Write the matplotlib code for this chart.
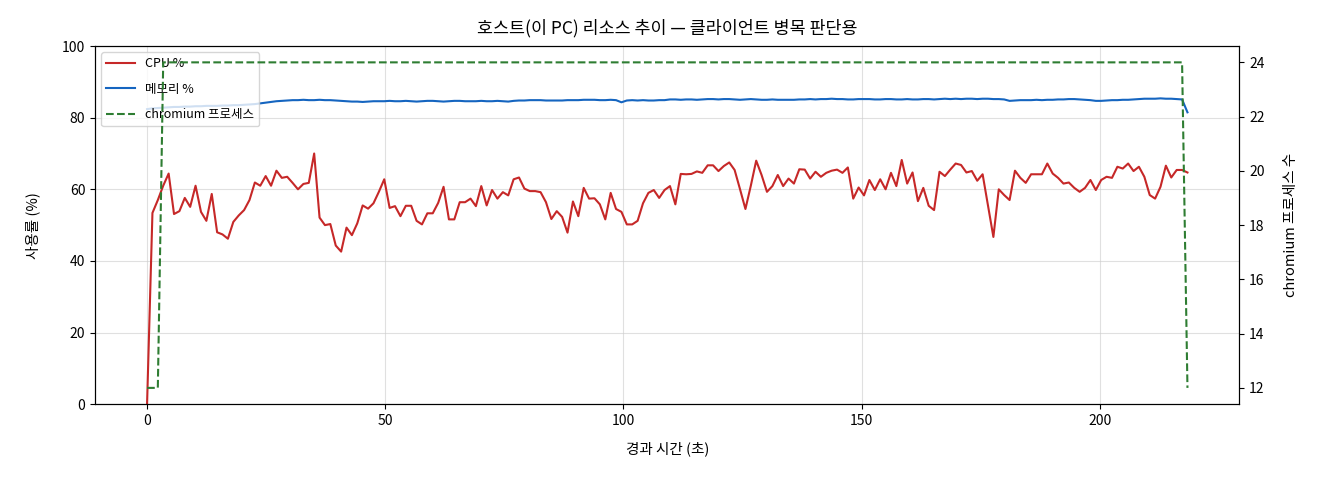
import numpy as np
import matplotlib
matplotlib.use("Agg")
import matplotlib.pyplot as plt

plt.rcParams['font.family'] = ['Noto Sans CJK KR', 'DejaVu Sans']
plt.rcParams['axes.unicode_minus'] = False

SAMPLE_INTERVAL_S = 1.1316

cpu_pct = [
    0.0, 53.4, 57.0, 61.0, 64.4, 53.1, 53.9, 57.6, 55.1, 61.0,
    53.7, 51.2, 58.7, 48.0, 47.4, 46.2, 50.9, 52.7, 54.2, 57.0,
    61.9, 61.0, 63.7, 61.0, 65.2, 63.2, 63.5, 61.8, 60.0, 61.5,
    61.8, 70.0, 52.1, 50.0, 50.3, 44.3, 42.6, 49.3, 47.2, 50.5,
    55.5, 54.6, 56.1, 59.3, 62.8, 54.8, 55.3, 52.5, 55.4, 55.4,
    51.2, 50.2, 53.3, 53.3, 56.2, 60.7, 51.6, 51.6, 56.4, 56.4,
    57.4, 55.3, 60.9, 55.5, 59.8, 57.4, 59.2, 58.3, 62.8, 63.3,
    60.2, 59.5, 59.5, 59.2, 56.4, 51.7, 53.9, 52.3, 47.9, 56.6,
    52.5, 60.4, 57.4, 57.5, 55.8, 51.6, 59.0, 54.5, 53.7, 50.2,
    50.2, 51.2, 56.1, 59.0, 59.8, 57.6, 59.8, 60.9, 55.8, 64.3,
    64.2, 64.3, 65.0, 64.6, 66.7, 66.7, 65.1, 66.5, 67.5, 65.4,
    60.0, 54.5, 61.0, 68.0, 64.0, 59.3, 60.9, 64.0, 60.9, 63.0,
    61.6, 65.6, 65.5, 63.0, 64.9, 63.5, 64.6, 65.2, 65.5, 64.6,
    66.1, 57.4, 60.5, 58.3, 62.6, 59.8, 62.8, 60.0, 64.6, 60.9,
    68.2, 61.6, 64.7, 56.7, 60.4, 55.4, 54.2, 64.9, 63.7, 65.5,
    67.2, 66.8, 64.7, 65.1, 62.4, 64.2, 55.5, 46.7, 60.0, 58.4,
    57.0, 65.2, 63.2, 61.8, 64.2, 64.2, 64.2, 67.2, 64.4, 63.2,
    61.6, 61.9, 60.4, 59.3, 60.4, 62.6, 59.8, 62.6, 63.5, 63.2,
    66.3, 65.8, 67.2, 65.1, 66.3, 63.5, 58.4, 57.4, 60.7, 66.6,
    63.3, 65.4, 65.4, 64.7,
]

mem_pct = [
    82.4, 82.6, 82.7, 82.8, 82.9, 83.0, 83.0, 83.1, 83.1, 83.2,
    83.2, 83.3, 83.3, 83.3, 83.4, 83.4, 83.5, 83.5, 83.6, 83.7,
    83.8, 84.0, 84.2, 84.4, 84.6, 84.7, 84.8, 84.9, 84.9, 85.0,
    84.9, 84.9, 85.0, 84.9, 84.9, 84.8, 84.7, 84.6, 84.5, 84.5,
    84.4, 84.5, 84.6, 84.6, 84.6, 84.7, 84.6, 84.6, 84.7, 84.6,
    84.5, 84.6, 84.7, 84.7, 84.6, 84.5, 84.6, 84.7, 84.7, 84.6,
    84.6, 84.6, 84.7, 84.6, 84.6, 84.7, 84.6, 84.5, 84.7, 84.8,
    84.8, 84.9, 84.9, 84.9, 84.8, 84.8, 84.8, 84.8, 84.9, 84.9,
    84.9, 85.0, 85.0, 85.0, 84.9, 84.9, 85.0, 84.9, 84.3, 84.8,
    84.9, 84.8, 84.9, 84.8, 84.8, 84.9, 84.9, 85.1, 85.1, 85.0,
    85.1, 85.1, 85.0, 85.1, 85.2, 85.2, 85.1, 85.2, 85.2, 85.1,
    85.0, 85.1, 85.2, 85.1, 85.0, 85.0, 85.1, 85.0, 85.0, 85.0,
    85.0, 85.1, 85.1, 85.2, 85.1, 85.2, 85.2, 85.3, 85.2, 85.2,
    85.1, 85.1, 85.2, 85.2, 85.2, 85.1, 85.1, 85.2, 85.2, 85.1,
    85.1, 85.2, 85.1, 85.1, 85.2, 85.2, 85.1, 85.2, 85.3, 85.2,
    85.3, 85.2, 85.3, 85.3, 85.2, 85.3, 85.3, 85.2, 85.2, 85.1,
    84.7, 84.8, 84.9, 84.9, 84.9, 85.0, 84.9, 85.0, 85.0, 85.1,
    85.1, 85.2, 85.2, 85.1, 85.0, 84.9, 84.7, 84.7, 84.8, 84.9,
    84.9, 85.0, 85.0, 85.1, 85.2, 85.3, 85.3, 85.3, 85.4, 85.3,
    85.3, 85.2, 85.1, 81.5,
]

chromium_procs = [12] * 3 + [24] * 190 + [12]

elapsed_s = [round(i * SAMPLE_INTERVAL_S, 2) for i in range(len(cpu_pct))]

fig = plt.figure(figsize=(13.2, 4.8), dpi=100)
ax1 = fig.add_subplot(111)
fig.subplots_adjust(left=0.072, right=0.939, bottom=0.158, top=0.904)

l1, = ax1.plot(elapsed_s, cpu_pct, color='#c62828', lw=1.5, label='CPU %')
l2, = ax1.plot(elapsed_s, mem_pct, color='#1565c0', lw=1.5, label='메모리 %')
ax1.set_ylim(0, 100)
ax1.set_xlabel('경과 시간 (초)', fontsize=10.5, labelpad=10)
ax1.set_ylabel('사용률 (%)', fontsize=10.5, labelpad=16)
ax1.grid(True, color='#cccccc', alpha=0.6, lw=0.8)
ax1.tick_params(labelsize=10)

ax2 = ax1.twinx()
l3, = ax2.plot(elapsed_s, chromium_procs, color='#2e7d32', lw=1.5, ls='--',
               label='chromium 프로세스')
ax2.set_ylabel('chromium 프로세스 수', fontsize=10.5, labelpad=14)
ax2.tick_params(labelsize=10)

ax1.legend(handles=[l1, l2, l3], loc='upper left', fontsize=9,
           labelspacing=1.0, handlelength=2.3, framealpha=0.8)
ax1.set_title('호스트(이 PC) 리소스 추이 — 클라이언트 병목 판단용', fontsize=12.5, pad=9)

fig.savefig('out.png', dpi=100)
